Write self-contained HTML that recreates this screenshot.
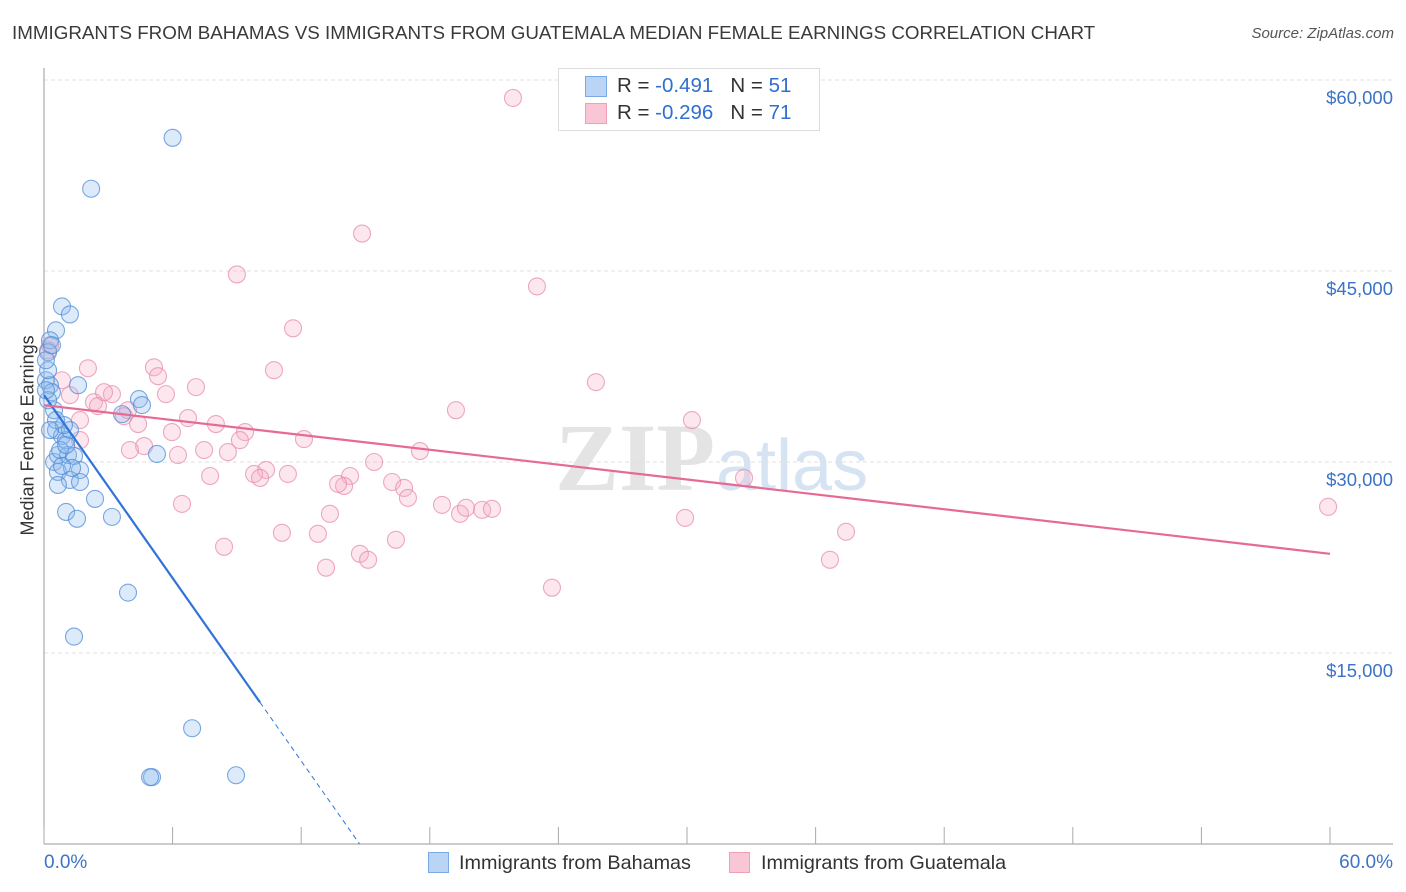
<!DOCTYPE html>
<html><head><meta charset="utf-8"><style>
body{margin:0;background:#fff;font-family:"Liberation Sans",sans-serif;}
#wrap{position:relative;width:1406px;height:892px;overflow:hidden;}
.t{position:absolute;white-space:nowrap;}
</style></head><body>
<div id="wrap">
<div class="t" style="left:12px;top:22px;font-size:18.8px;color:#3a3a3a;">IMMIGRANTS FROM BAHAMAS VS IMMIGRANTS FROM GUATEMALA MEDIAN FEMALE EARNINGS CORRELATION CHART</div>
<div class="t" style="right:12px;top:25px;font-size:15px;color:#555;font-style:italic;">Source: ZipAtlas.com</div>
<svg id="svg" width="1406" height="892" style="position:absolute;left:0;top:0"></svg>
</div>
<script>
const blueX=[6.0,2.2,0.84,1.21,0.56,0.28,0.19,0.09,0.28,1.59,0.37,0.47,4.43,4.57,3.64,0.56,0.84,1.03,1.21,0.47,0.65,1.12,1.40,1.68,0.65,1.21,1.68,0.65,2.38,1.03,1.54,3.17,5.27,3.92,1.40,6.91,5.04,4.95,8.96,0.19,0.09,0.37,0.93,0.75,1.31,0.19,0.56,1.03,0.84,0.09,0.28];
const blueY=[55460,51460,42220,41590,40340,39560,38620,36420,36030,36030,35480,34070,34940,34470,33760,32510,32040,31720,32510,30000,30550,30550,30470,29370,29220,28590,28430,28200,27100,26080,25540,25690,30630,19740,16290,9090,5250,5250,5400,37210,37990,39170,32900,30940,29530,34860,33290,31330,29690,35640,32510];
const pinkX=[21.88,14.84,23.0,9.0,11.62,0.28,0.19,0.84,2.05,5.13,5.32,7.09,10.73,25.75,19.22,30.23,3.17,2.33,2.52,3.92,3.73,5.69,1.68,4.39,6.72,8.02,5.97,9.38,9.14,12.13,4.67,4.01,6.25,7.47,8.58,15.40,17.54,10.36,9.80,10.08,11.38,14.28,14.0,13.72,16.24,16.80,16.98,7.75,6.44,13.34,18.57,19.41,19.69,20.44,20.90,29.91,32.66,37.42,59.91,11.10,12.78,8.40,16.42,14.74,15.12,13.16,23.70,36.67,1.68,2.80,1.21];
const pinkY=[58590,47940,43790,44730,40500,39170,38770,36420,37360,37440,36740,35880,37210,36270,34070,33290,35330,34700,34390,34070,33600,35330,33290,32980,33450,32980,32350,32350,31720,31800,31250,30940,30550,30940,30780,30000,30860,29370,29060,28750,29060,28900,28120,28280,28430,27960,27180,28900,26710,25930,26630,25930,26400,26240,26320,25610,28750,24520,26480,24440,24360,23340,23890,22790,22320,21700,20130,22320,31720,35480,35250];
const blueLine=[35250,-2394];
const pinkLine=[34460,22790];
const yTicks=[15000,30000,45000,60000];
const yTickLabels=["$15,000","$30,000","$45,000","$60,000"];

const X0=44,X1=1330,Y0=844,PER=191/15000;
const sx=v=>X0+(X1-X0)*v/60;
const sy=v=>Y0-v*PER;
const svg=document.getElementById('svg');
const NS='http://www.w3.org/2000/svg';
function mk(tag,attrs,parent){const e=document.createElementNS(NS,tag);for(const k in attrs)e.setAttribute(k,attrs[k]);(parent||svg).appendChild(e);return e;}

let wm=mk('text',{x:555,y:490,'font-size':96,'font-family':'Liberation Serif',fill:'#e4e4e4','font-weight':'bold'});
wm.textContent='ZIP';


let wm2=mk('text',{x:716,y:490,'font-size':72,'font-family':'Liberation Sans',fill:'#d6e3f3'});
wm2.textContent='atlas';



yTicks.forEach((v,i)=>{
 let g=mk('line',{x1:X0,x2:1393,y1:sy(v),y2:sy(v),stroke:'#e0e0e0','stroke-dasharray':'4,3'});
 
 
 let t=mk('text',{x:1393,y:sy(v)+24,'text-anchor':'end','font-size':18.5,fill:'#3b73c8','font-family':'Liberation Sans'});
 t.textContent=yTickLabels[i];
 
 
});
let ax=mk('line',{x1:X0,x2:X0,y1:68,y2:Y0,stroke:'#999'});


let bx=mk('line',{x1:X0,x2:1393,y1:Y0,y2:Y0,stroke:'#999'});


for(let i=0;i<=10;i++){
 let tk=mk('line',{x1:sx(i*6),x2:sx(i*6),y1:Y0,y2:Y0-17,stroke:'#aaa'});
 
 
}
function pts(xs,ys,fill,stroke,name){
 xs.forEach((x,i)=>{
  let c=mk('circle',{cx:sx(x),cy:sy(ys[i]),r:8.5,fill:fill,stroke:stroke,'stroke-width':1.1});
  
  
 });
}
pts(pinkX,pinkY,'rgba(246,175,198,0.3)','rgba(232,140,172,0.75)','guatemala-point');
pts(blueX,blueY,'rgba(140,185,240,0.3)','rgba(80,140,215,0.75)','bahamas-point');
const bEnd=10.08, bZero=-blueLine[0]/blueLine[1];
let bl=mk('line',{x1:sx(0),y1:sy(blueLine[0]),x2:sx(bEnd),y2:sy(blueLine[0]+blueLine[1]*bEnd),stroke:'#2f74d6','stroke-width':2.2});


let bd=mk('line',{x1:sx(bEnd),y1:sy(blueLine[0]+blueLine[1]*bEnd),x2:sx(bZero),y2:sy(0),stroke:'#2f74d6','stroke-width':1,'stroke-dasharray':'5,4'});


let pl=mk('line',{x1:sx(0),y1:sy(pinkLine[0]),x2:sx(60),y2:sy(pinkLine[1]),stroke:'#e66a93','stroke-width':2.2});


</script>
<div class="t" style="left:-52px;top:445px;transform:rotate(-90deg);font-size:18px;color:#333;width:160px;text-align:center;">Median Female Earnings</div>
<div class="t" style="left:44px;top:852px;font-size:19px;color:#3b73c8;">0.0%</div>
<div class="t" style="right:13px;top:852px;font-size:19px;color:#3b73c8;">60.0%</div>
<div style="position:absolute;left:558px;top:68px;width:260px;height:61px;border:1px solid #ddd;background:#fff;font-size:20.5px;">
 <div style="position:absolute;left:26px;top:7px;width:20px;height:19px;background:#b9d4f5;border:1px solid #7aaae6;"></div>
 <div class="t" style="left:58px;top:5px;color:#333;">R = <span style="color:#2f6fcf">-0.491</span>&nbsp;&nbsp;&nbsp;N = <span style="color:#2f6fcf">51</span></div>
 <div style="position:absolute;left:26px;top:34px;width:20px;height:19px;background:#f9c6d5;border:1px solid #eea0b8;"></div>
 <div class="t" style="left:58px;top:32px;color:#333;">R = <span style="color:#2f6fcf">-0.296</span>&nbsp;&nbsp;&nbsp;N = <span style="color:#2f6fcf">71</span></div>
</div>
<div style="position:absolute;left:428px;top:852px;font-size:19.8px;color:#333;">
 <span style="display:inline-block;width:19px;height:19px;background:#b9d4f5;border:1px solid #7aaae6;vertical-align:-4px;margin-right:10px;"></span>Immigrants from Bahamas</div>
<div style="position:absolute;left:729px;top:852px;font-size:19.8px;color:#333;">
 <span style="display:inline-block;width:19px;height:19px;background:#f9c6d5;border:1px solid #eea0b8;vertical-align:-4px;margin-right:11px;"></span>Immigrants from Guatemala</div>
</body></html>
